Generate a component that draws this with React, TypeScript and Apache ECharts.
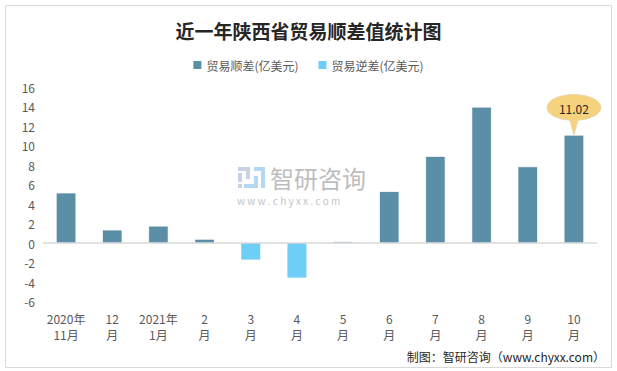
import React, { useEffect, useRef } from "react";
import * as echarts from "echarts";

const categories = ["2020年\n11月", "12\n月", "2021年\n1月", "2\n月", "3\n月", "4\n月", "5\n月", "6\n月", "7\n月", "8\n月", "9\n月", "10\n月"];
const surplus = [5.1, 1.3, 1.7, 0.35, null, null, 0.1, 5.25, 8.85, 13.9, 7.8, 11.02];
const deficit = [null, null, null, null, -1.7, -3.55, null, null, null, null, null, null];
const yTicks = { min: -6, max: 16, interval: 2 };
const calloutIndex = 11;

const FONT = "'Noto Sans CJK SC', 'Noto Sans', sans-serif";
const CALLOUT =
  "path://M0,13 A27,13 0 1 1 54,13 A27,13 0 0 1 31,25.8 L27,41 L23,25.8 A27,13 0 0 1 0,13 Z";

export default function App() {
  const ref = useRef<HTMLDivElement>(null);
  useEffect(() => {
    if (!ref.current) return;
    const chart = echarts.init(ref.current, null, { renderer: "svg" });
    chart.setOption({
      animation: false,
      backgroundColor: "#ffffff",
      textStyle: { fontFamily: FONT },
      title: {
        text: "近一年陕西省贸易顺差值统计图",
        left: "center",
        top: 16,
        textStyle: { fontSize: 19, fontWeight: "bold", color: "#262626", fontFamily: FONT },
      },
      legend: {
        top: 54,
        left: "center",
        itemWidth: 8,
        itemHeight: 8,
        itemGap: 20,
        itemStyle: { borderWidth: 0 },
        icon: "rect",
        textStyle: { fontSize: 12, color: "#595959", fontFamily: FONT },
        data: ["贸易顺差(亿美元)", "贸易逆差(亿美元)"],
      },
      grid: { left: 43, right: 20, top: 87, bottom: 69.5 },
      xAxis: {
        type: "category",
        data: categories,
        axisLine: { show: false },
        axisTick: { show: false },
        axisLabel: { color: "#595959", fontSize: 12, lineHeight: 16, margin: 9, interval: 0 },
      },
      yAxis: {
        type: "value",
        min: yTicks.min,
        max: yTicks.max,
        interval: yTicks.interval,
        axisLine: { show: false },
        axisTick: { show: false },
        splitLine: { show: false },
        axisLabel: { color: "#595959", fontSize: 12, margin: 8 },
      },
      series: [
        {
          name: "贸易顺差(亿美元)",
          type: "bar",
          stack: "t",
          barWidth: 19,
          itemStyle: { color: "#5B8FA8", borderColor: "#4E7E96", borderWidth: 0.5, borderType: "dotted" },
          data: surplus.map((v) => (v === null ? "-" : v)),
          markLine: {
            silent: true,
            symbol: "none",
            label: { show: false },
            lineStyle: { color: "#d9d9d9", width: 1.5, type: "solid" },
            data: [{ yAxis: 0 }],
          },
          markPoint: {
            silent: true,
            symbol: CALLOUT,
            symbolSize: [54, 41],
            symbolOffset: [0, -20.5],
            itemStyle: { color: "#F6D27C", borderColor: "#e3d3b0", borderWidth: 0.8 },
            label: {
              show: true,
              offset: [0, -7],
              color: "#262626",
              fontSize: 12,
              formatter: String(surplus[calloutIndex]),
            },
            data: [{ coord: [calloutIndex, surplus[calloutIndex]] }],
          },
        },
        {
          name: "贸易逆差(亿美元)",
          type: "bar",
          stack: "t",
          barWidth: 19,
          itemStyle: { color: "#6DCFF6" },
          data: deficit.map((v) => (v === null ? "-" : v)),
        },
      ],
      graphic: [
        {
          type: "rect",
          shape: { x: 5.5, y: 5.5, width: 606, height: 362 },
          style: { fill: "none", stroke: "#d9d9d9", lineWidth: 1 },
          silent: true,
        },
        {
          type: "group",
          silent: true,
          children: [
            { type: "rect", shape: { x: 238, y: 167, width: 12, height: 4 }, style: { fill: "#c8d2e2" } },
            { type: "rect", shape: { x: 238, y: 173, width: 4, height: 9 }, style: { fill: "#c8d2e2" } },
            { type: "rect", shape: { x: 238, y: 184, width: 4, height: 4 }, style: { fill: "#c8d2e2" } },
            { type: "rect", shape: { x: 246, y: 171, width: 4, height: 8 }, style: { fill: "#c8d2e2" } },
            { type: "rect", shape: { x: 244, y: 184, width: 10, height: 4 }, style: { fill: "#b3d8f2" } },
            { type: "rect", shape: { x: 254, y: 167, width: 11, height: 4 }, style: { fill: "#b3d8f2" } },
            { type: "rect", shape: { x: 261, y: 171, width: 4, height: 17 }, style: { fill: "#b3d8f2" } },
            { type: "rect", shape: { x: 254, y: 176, width: 4, height: 12 }, style: { fill: "#b3d8f2" } },
          ],
        },
        {
          type: "text",
          silent: true,
          x: 270,
          y: 177,
          style: {
            text: "智研咨询",
            fill: "#bdbdbd",
            font: `24px ${FONT}`,
            verticalAlign: "middle",
            textAlign: "left",
          },
        },
        {
          type: "text",
          silent: true,
          x: 237,
          y: 200,
          style: {
            text: "w w w . c h y x x . c o m",
            fill: "#c4c4c4",
            font: `10px ${FONT}`,
            verticalAlign: "middle",
            textAlign: "left",
          },
        },
        {
          type: "text",
          silent: true,
          right: 12,
          top: 350,
          style: {
            text: "制图：智研咨询（www.chyxx.com）",
            fill: "#262626",
            font: `12px ${FONT}`,
          },
        },
      ],
    });
    return () => chart.dispose();
  }, []);
  return (
    <div
      ref={ref}
      style={{ position: "fixed", left: 0, top: 0, width: 617, height: 371 }}
    />
  );
}
